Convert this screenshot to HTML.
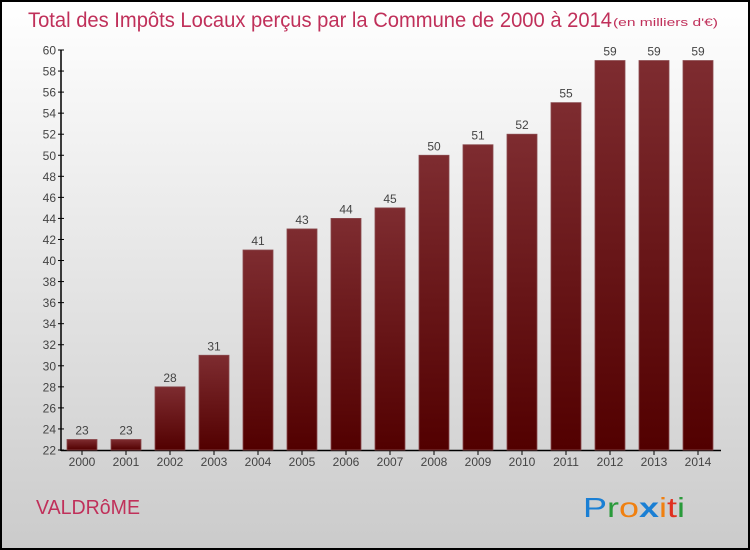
<!DOCTYPE html>
<html><head><meta charset="utf-8"><style>
body{margin:0;width:750px;height:550px;overflow:hidden}
svg{display:block;font-family:"Liberation Sans",sans-serif}
</style></head><body>
<svg width="750" height="550" xmlns="http://www.w3.org/2000/svg">
<defs>
<linearGradient id="bg" x1="0" y1="0" x2="0" y2="1"><stop offset="0" stop-color="#ffffff"/><stop offset="1" stop-color="#cbcbcb"/></linearGradient>
<linearGradient id="bar" x1="0" y1="0" x2="0" y2="1"><stop offset="0" stop-color="#7e2c30"/><stop offset="1" stop-color="#520000"/></linearGradient>
</defs>
<rect x="1" y="1" width="748" height="548" fill="url(#bg)" stroke="#000" stroke-width="2"/>
<text x="28" y="27" font-size="21" fill="#c0305a" textLength="584" lengthAdjust="spacingAndGlyphs">Total des Impôts Locaux perçus par la Commune de 2000 à 2014</text>
<text x="613" y="26" font-size="11" fill="#c0305a" textLength="105" lengthAdjust="spacingAndGlyphs">(en milliers d'€)</text>
<g id="axes"></g>
<g id="bars"></g>
<text x="36" y="514" font-size="20" fill="#c0305a" textLength="104" lengthAdjust="spacingAndGlyphs">VALDRôME</text>
<g font-size="28">
<text x="583" y="517" textLength="102" lengthAdjust="spacingAndGlyphs"><tspan fill="#1a7fd4">P</tspan><tspan fill="#2a9a3a">r</tspan><tspan fill="#f08010">o</tspan><tspan fill="#1a7fd4" font-weight="bold">x</tspan><tspan fill="#f08010">i</tspan><tspan fill="#e03020">t</tspan><tspan fill="#2a9a3a">i</tspan></text>
</g>
</svg>
<script>
const categories=["2000","2001","2002","2003","2004","2005","2006","2007","2008","2009","2010","2011","2012","2013","2014"];
const values=[23,23,28,31,41,43,44,45,50,51,52,55,59,59,59];
const yTicks=[22,24,26,28,30,32,34,36,38,40,42,44,46,48,50,52,54,56,58,60];
const NS="http://www.w3.org/2000/svg";
const y=v=>450-(v-22)*400/38;
const x=i=>82+44*i;
function mk(t,a,p,txt){const e=document.createElementNS(NS,t);for(const k in a)e.setAttribute(k,a[k]);if(txt!==undefined)e.textContent=txt;p.appendChild(e);return e;}
const ax=document.getElementById('axes'),bs=document.getElementById('bars');
let l=mk('line',{x1:61,y1:50,x2:61,y2:451,stroke:'#000','stroke-width':1.5},ax);


l=mk('line',{x1:61,y1:450.5,x2:721,y2:450.5,stroke:'#000','stroke-width':1.5},ax);


yTicks.forEach(v=>{
 mk('line',{x1:58,y1:y(v),x2:64,y2:y(v),stroke:'#000'},ax);
 const t=mk('text',{x:56,y:y(v)+4.5,'text-anchor':'end','font-size':12,fill:'#444'},ax,v);
 
 
});
categories.forEach((c,i)=>{
 mk('line',{x1:x(i),y1:450,x2:x(i),y2:455,stroke:'#000'},ax);
 const t=mk('text',{x:x(i),y:466,'text-anchor':'middle','font-size':12,fill:'#444'},ax,c);
 
 
 const b=mk('rect',{x:x(i)-15,y:y(values[i]),width:30,height:450-y(values[i]),fill:'url(#bar)',stroke:'#8a4a4e','stroke-width':0.8},bs);
 
 
 const vl=mk('text',{x:x(i),y:y(values[i])-5,'text-anchor':'middle','font-size':12,fill:'#444'},bs,values[i]);
 
 
});
</script>
</body></html>
